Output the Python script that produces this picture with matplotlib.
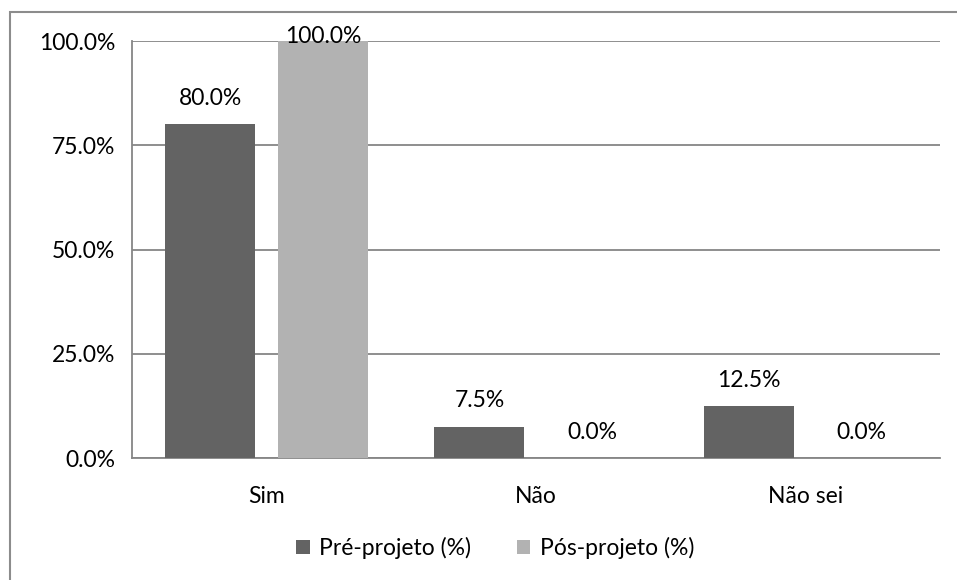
import matplotlib.pyplot as plt
import numpy as np
from matplotlib.patches import Rectangle
from matplotlib.ticker import FuncFormatter

plt.rcParams['font.family'] = ['Lato', 'DejaVu Sans']

categories = ['Sim', 'Não', 'Não sei']
pre_values = [80.0, 7.5, 12.5]
pos_values = [100.0, 0.0, 0.0]
series_names = ['Pré-projeto (%)', 'Pós-projeto (%)']
yticks = [0, 25, 50, 75, 100]

dark = '#636363'
light = '#b2b2b2'
grid_col = '#868686'
fs = 16.5

fig = plt.figure(figsize=(9.57, 5.8), dpi=100)
ax = fig.add_axes([0.1379, 0.2103, 0.8443, 0.7190])

# chart frame (left and top edges visible)
fig.patches.append(Rectangle((10 / 957, -0.1), 1.2, 1.1 - 12 / 580,
                             transform=fig.transFigure, fill=False,
                             edgecolor='#8c8c8c', linewidth=1.5))

x = np.arange(len(categories))
w = 0.334
off = 0.21
b1 = ax.bar(x - off, pre_values, w, color=dark, label=series_names[0], zorder=3)
b2 = ax.bar(x + off, pos_values, w, color=light, label=series_names[1], zorder=3)

for bars, vals in ((b1, pre_values), (b2, pos_values)):
    for rect, v in zip(bars, vals):
        dy = 11 if v < 100 else -4
        ax.annotate(f'{v:.1f}%', (rect.get_x() + rect.get_width() / 2, v),
                    xytext=(0, dy), textcoords='offset points',
                    ha='center', va='bottom', fontsize=fs, color='black',
                    zorder=4)

ax.set_xlim(-0.5, 2.5)
ax.set_ylim(0, 100)
ax.set_yticks(yticks)
ax.yaxis.set_major_formatter(FuncFormatter(lambda v, p: f'{v:.1f}%'))
ax.set_xticks(x)
ax.set_xticklabels(categories)
ax.tick_params(axis='y', length=0, pad=12, labelsize=fs)
ax.tick_params(axis='x', length=0, pad=20, labelsize=fs)
ax.yaxis.grid(True, color=grid_col, linewidth=1.3, zorder=0)
ax.set_axisbelow(True)
for s in ('top', 'right'):
    ax.spines[s].set_visible(False)
ax.spines['left'].set_color(grid_col)
ax.spines['bottom'].set_color(grid_col)
ax.spines['left'].set_linewidth(1.3)
ax.spines['bottom'].set_linewidth(1.3)

fig.legend(loc='center', bbox_to_anchor=(495 / 957, 1 - 548 / 580), ncol=2,
           frameon=False, fontsize=fs, handlelength=0.6, handleheight=0.6,
           columnspacing=2.0, handletextpad=0.4)

fig.savefig('out.png', dpi=100)
